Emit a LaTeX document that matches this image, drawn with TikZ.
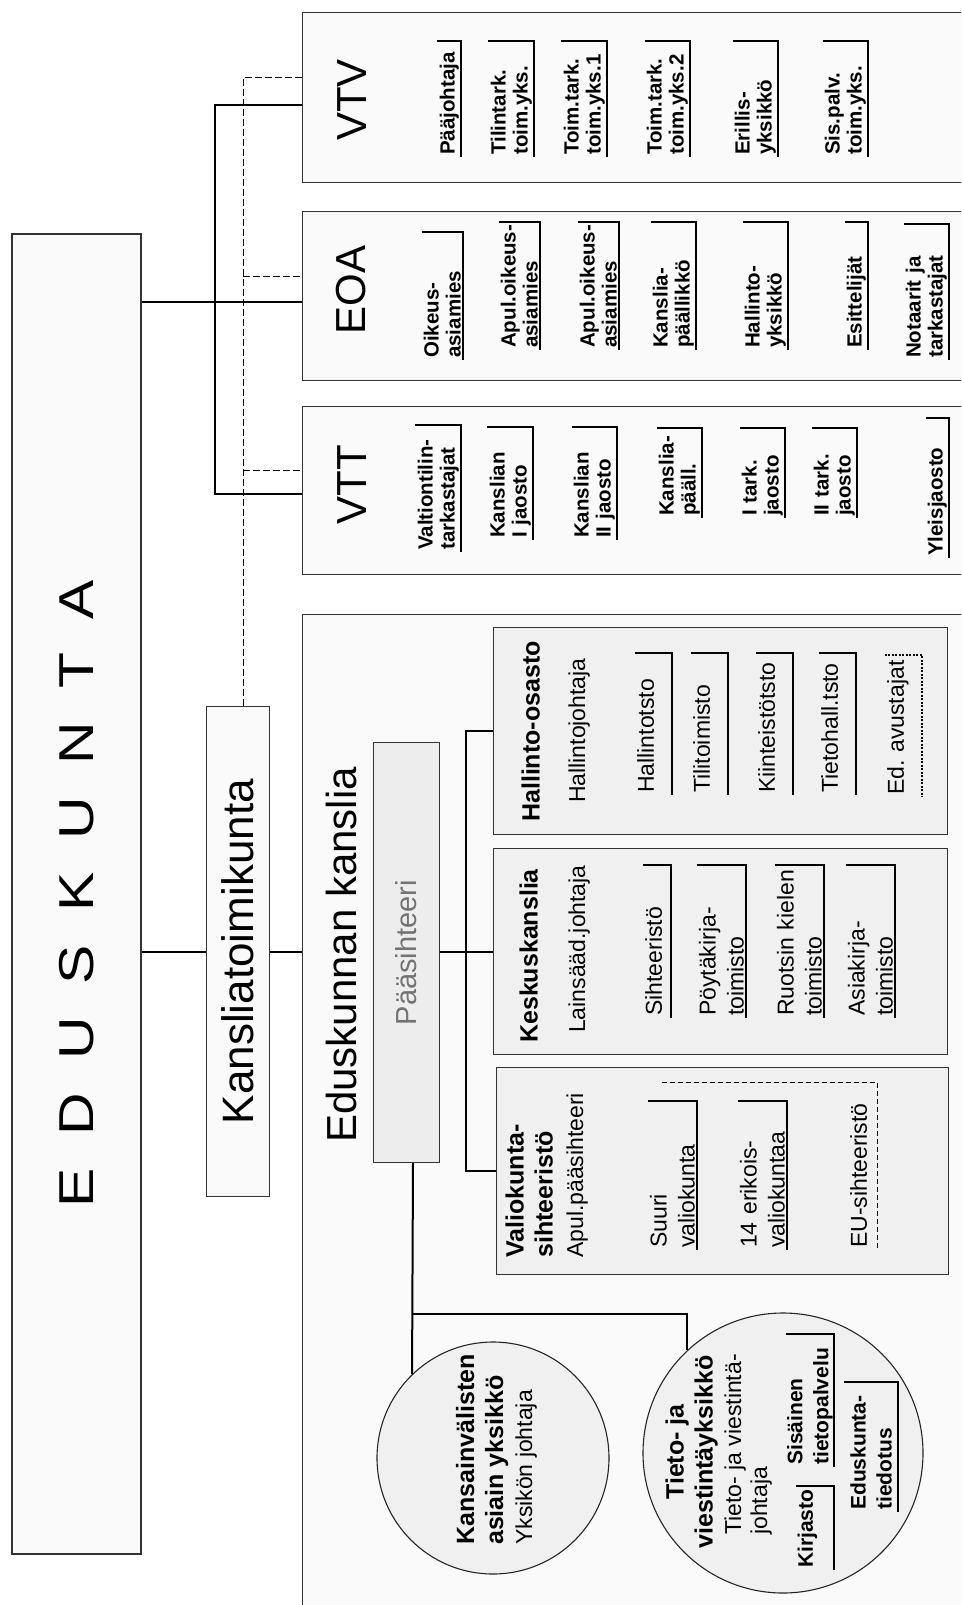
\documentclass[tikz,border=0pt]{standalone}
\usepackage{fontspec}
\usepackage{graphicx}
\setmainfont{Liberation Sans}
\newfontfamily\widefont[FakeStretch=1.2]{Liberation Sans}
\newcommand{\spread}{\hspace{33pt}}
\lefthyphenmin=62
\begin{document}
\begin{tikzpicture}
[ x=1pt, y=-1pt
, outerbox/.style={rectangle, draw=black!80, line width=1.3pt, fill=black!2, inner sep=0pt, anchor=north west}
, innerbox/.style={rectangle, draw=black!80, line width=1.1pt, fill=black!6, inner sep=0pt, anchor=north west}
, unitcircle/.style={circle, draw=black!85, line width=1.1pt, fill=black!6, inner sep=0pt}
, conn/.style={line width=2pt}
, dashconn/.style={line width=1.2pt, dash pattern=on 7pt off 3pt}
, boxtitle/.style={rotate=90, inner sep=0pt, font=\fontsize{42}{48}\selectfont}
, headlabel/.style={rotate=90, inner sep=0pt, anchor=south west, align=left, font=\bfseries\fontsize{25}{29}\selectfont}
, chieflabel/.style={rotate=90, inner sep=0pt, anchor=south west, align=left, font=\fontsize{23}{26}\selectfont}
, toplabel/.style={rotate=90, anchor=south west, align=left, inner xsep=2pt, inner ysep=2pt, font=\bfseries\fontsize{20.5}{22}\selectfont}
, officelabel/.style={rotate=90, anchor=south west, align=left, inner xsep=2pt, inner ysep=2pt, font=\fontsize{23}{28}\selectfont}
, circlelabel/.style={rotate=90, anchor=south west, align=left, inner xsep=2pt, inner ysep=1pt, font=\bfseries\fontsize{21}{26}\selectfont}
, bracketline/.style={line width=1.9pt}
]
\useasboundingbox (0,0) rectangle (961,1605);
\clip (0,0) rectangle (961,1605);
% Main boxes
\node (edk) [outerbox, line width=1.8pt, minimum width=129pt, minimum height=1320pt] at (11,233)
  {\rotatebox{90}{\widefont\fontsize{49}{49}\selectfont E\spread D\spread U\spread S\spread K\spread U\spread N\spread T\spread A}};
\node (ktk) [outerbox, minimum width=63pt, minimum height=490pt] at (206,706)
  {\rotatebox{90}{\fontsize{44}{44}\selectfont Kansliatoimikunta}};
\node (vtv) [outerbox, minimum width=700pt, minimum height=170pt] at (302,12) {};
\node (eoa) [outerbox, minimum width=700pt, minimum height=169pt] at (302,211) {};
\node (vtt) [outerbox, minimum width=700pt, minimum height=168pt] at (302,406) {};
\node (eka) [outerbox, minimum width=700pt, minimum height=1100pt] at (302,614) {};
\node (vtvt) [boxtitle] at (352,100) {VTV};
\node (eoat) [boxtitle] at (351,290) {EOA};
\node (vttt) [boxtitle] at (352,485) {VTT};
\node (ekat) [boxtitle] at (341,955) {Eduskunnan kanslia};
% Eduskunnan kanslia
\node (pas) [innerbox, fill=black!7, text=black!55, minimum width=66pt, minimum height=420pt] at (373,742)
  {\rotatebox{90}{\fontsize{29}{29}\selectfont Pääsihteeri}};
\node (ho) [innerbox, minimum width=454pt, minimum height=207pt] at (493,627) {};
\node (kk) [innerbox, minimum width=454pt, minimum height=206pt] at (493,848) {};
\node (vk) [innerbox, minimum width=452pt, minimum height=207pt] at (496,1067) {};
\node (kv) [unitcircle, minimum size=232pt] at (493,1458) {};
\node (tv) [unitcircle, minimum size=280pt] at (783,1453) {};
% Connectors
\coordinate (vtvs) at ([yshift=-7pt]vtv.west);
\coordinate (eoas) at ([yshift=-6pt]eoa.west);
\coordinate (vtts) at ([yshift=-3pt]vtt.west);
\coordinate (vtvd) at ([yshift=20pt]vtv.west);
\coordinate (eoad) at ([yshift=20pt]eoa.west);
\coordinate (vttd) at ([yshift=20pt]vtt.west);
\coordinate (spine) at (215,300);
\coordinate (kd) at ([xshift=5pt]ktk.north);
\draw [conn] (edk.east |- eoas) -- (eoas);
\draw [conn] (vtvs) -| (spine) |- (vtts);
\draw [dashconn] (kd) |- (vtvd);
\draw [dashconn] (kd |- eoad) -- (eoad);
\draw [dashconn] (kd |- vttd) -- (vttd);
\draw [conn] (edk.east |- ktk.west) -- (ktk.west);
\draw [conn] (ktk.east) -- (ktk.east -| eka.west);
\coordinate (ksp) at (466,951);
\coordinate (lsp) at (413,1314);
\draw [conn] (pas.east |- kk.west) -- (kk.west);
\draw [conn] (ho.west) -| (ksp) |- (vk.west);
\draw [conn] (lsp |- pas.south) -- (kv.134);
\draw [conn] (lsp) -| (tv.133);
% VTV
\node (vtv1) [toplabel, text width=112pt] at (461,157) {Pääjohtaja};
\node (vtv2) [toplabel, text width=112pt] at (534,157) {Tilintark.\\toim.yks.};
\node (vtv3) [toplabel, text width=112pt] at (607,157) {Toim.tark.\\toim.yks.1};
\node (vtv4) [toplabel, text width=112pt] at (690,157) {Toim.tark.\\toim.yks.2};
\node (vtv5) [toplabel, text width=112pt] at (778,157) {Erillis-\\yksikkö};
\node (vtv6) [toplabel, text width=112pt] at (868,157) {Sis.palv.\\toim.yks.};
% EOA
\node (eoa1) [toplabel, text width=124pt] at (463,360) {Oikeus-\\asiamies};
\node (eoa2) [toplabel, text width=124pt] at (540,350) {Apul.oikeus-\\asiamies};
\node (eoa3) [toplabel, text width=124pt] at (619,350) {Apul.oikeus-\\asiamies};
\node (eoa4) [toplabel, text width=124pt] at (696,350) {Kanslia-\\päällikkö};
\node (eoa5) [toplabel, text width=124pt] at (788,350) {Hallinto-\\yksikkö};
\node (eoa6) [toplabel, text width=124pt] at (868,350) {Esittelijät};
\node (eoa7) [toplabel, text width=132pt] at (949,360) {Notaarit ja\\tarkastajat};
% VTT
\node (vtt1) [toplabel, text width=123pt] at (461,552) {Valtiontilin-\\tarkastajat};
\node (vtt2) [toplabel, text width=109pt] at (533,540) {Kanslian\\I jaosto};
\node (vtt3) [toplabel, text width=109pt] at (617,540) {Kanslian\\II jaosto};
\node (vtt4) [toplabel, text width=86pt] at (702,518) {Kanslia-\\pääll.};
\node (vtt5) [toplabel, text width=86pt] at (785,518) {I tark.\\jaosto};
\node (vtt6) [toplabel, text width=86pt] at (857,518) {II tark.\\jaosto};
\node (vtt7) [toplabel, text width=136pt] at (949,558) {Yleisjaosto};
% Hallinto-osasto
\node (hoh) [headlabel] at (540,822) {Hallinto-osasto};
\node (hoj) [chieflabel] at (590,803) {Hallintojohtaja};
\node (ho1) [officelabel, text width=138pt, text depth=16pt] at (672,795) {Hallintotsto};
\node (ho2) [officelabel, text width=138pt, text depth=16pt] at (728,795) {Tilitoimisto};
\node (ho3) [officelabel, text width=138pt, text depth=16pt] at (793,795) {Kiinteistötsto};
\node (ho4) [officelabel, text width=138pt, text depth=16pt] at (856,795) {Tietohall.tsto};
\node (ho5) [officelabel, text width=138pt, text depth=16pt] at (922,797) {Ed.~avustajat};
% Keskuskanslia
\node (kkh) [headlabel] at (538,1043) {Keskuskanslia};
\node (kkj) [chieflabel] at (590,1033) {Lainsääd.johtaja};
\node (kk1) [officelabel, text width=149pt, text depth=7pt] at (671,1018) {Sihteeristö};
\node (kk2) [officelabel, text width=149pt] at (746,1018) {Pöytäkirja-\\toimisto};
\node (kk3) [officelabel, text width=149pt] at (824,1018) {Ruotsin kielen\\toimisto};
\node (kk4) [officelabel, text width=149pt] at (895,1018) {Asiakirja-\\toimisto};
% Valiokuntasihteeristö
\node (vkh) [headlabel] at (553,1258) {Valiokunta-\\sihteeristö};
\node (vkj) [chieflabel] at (588,1258) {Apul.pääsihteeri};
\node (vk1) [officelabel, text width=145pt] at (697,1250) {Suuri\\valiokunta};
\node (vk2) [officelabel, text width=145pt] at (787,1250) {14 erikois-\\valiokuntaa};
\node (vk3) [officelabel, text width=163pt, text depth=8pt] at (877,1250) {EU-sihteeristö};
% Units in circles
\node (kvt) [headlabel, font=\fontsize{25}{29}\selectfont] at (537,1545)
  {\textbf{Kansainvälisten}\\\textbf{asiain yksikkö}\\{\fontsize{23}{29}\selectfont Yksikön johtaja}};
\node (tvh) [headlabel, anchor=south, align=center] at (718,1452) {Tieto- ja\\viestintäyksikkö};
\node (tvj) [chieflabel] at (772,1535) {Tieto- ja viestintä-\\johtaja};
\node (tvs) [circlelabel, text width=129pt] at (834,1467) {Sisäinen\\tietopalvelu};
\node (tvk) [circlelabel, text width=80pt, text depth=20pt] at (834,1570) {Kirjasto};
\node (tve) [circlelabel, text width=126pt, inner ysep=6pt] at (898,1512) {Eduskunta-\\tiedotus};
% Brackets
\foreach \n in {vtv1,vtv2,vtv3,vtv4,vtv5,vtv6,eoa1,eoa2,eoa3,eoa4,eoa5,eoa6,eoa7,
                vtt1,vtt2,vtt3,vtt4,vtt5,vtt6,vtt7,ho1,ho2,ho3,ho4,kk1,kk2,kk3,kk4,
                vk1,vk2,tvs,tvk,tve}
  \draw [bracketline] (\n.north east) -- (\n.south east) -- (\n.south west);
\draw [bracketline, dash pattern=on 2pt off 1.5pt] (ho5.north east) -- (ho5.south east) -- (ho5.south west);
\coordinate (eul) at ([xshift=14pt]vk1.north east);
\draw [line width=0.8pt, dash pattern=on 5pt off 3pt] (eul |- vk3.south east) -- (vk3.south east) -- (vk3.south west);
\end{tikzpicture}
\end{document}
